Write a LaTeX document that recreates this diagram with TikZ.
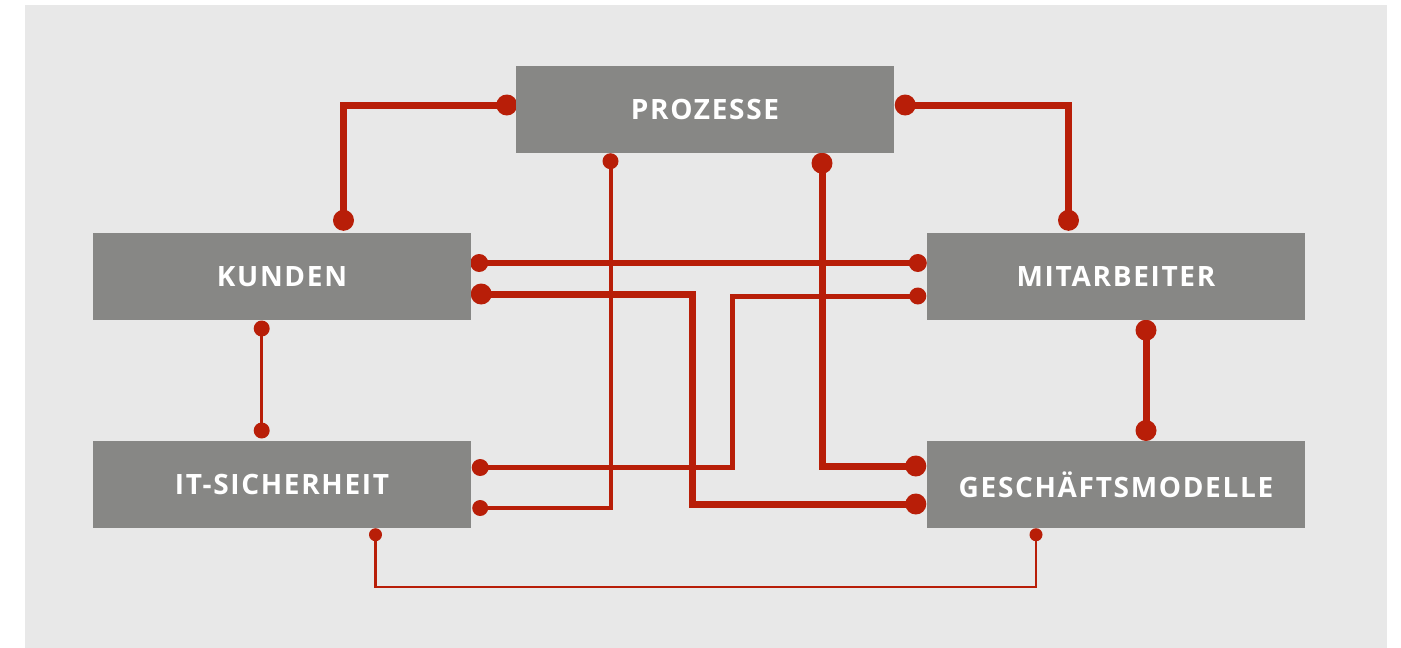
\documentclass[tikz,border=0pt]{standalone}
\usepackage{fontspec}
\setmainfont{Open Sans}
\usetikzlibrary{calc,backgrounds}
\definecolor{myred}{RGB}{184,30,8}
\definecolor{boxgray}{RGB}{135,135,133}
\definecolor{bggray}{RGB}{232,232,232}
\tikzset{
  box/.style={fill=boxgray, draw=none, minimum width=378pt, minimum height=87pt,
    inner sep=0pt, text=white, font=\fontsize{28}{32}\selectfont\bfseries\addfontfeature{LetterSpace=6}},
  wA/.style={draw=myred, line width=7pt},
  wB/.style={draw=myred, line width=6pt},
  wC/.style={draw=myred, line width=5pt},
  wD/.style={draw=myred, line width=4pt},
  wE/.style={draw=myred, line width=3.5pt},
  wF/.style={draw=myred, line width=2.5pt},
  dotfill/.style={fill=myred},
}
\begin{document}
\begin{tikzpicture}[x=1pt,y=-1pt]
\useasboundingbox (0,0) rectangle (1401,648);
\node[box] (P) at (705,109.5) {PROZESSE};
\node[box] (K) at (282,276.5) {KUNDEN};
\node[box] (M) at (1116,276.5) {MITARBEITER};
\node[box] (I) at (282,484.5) {IT-SICHERHEIT};
\node[box] (G) at (1116,484.5) {GESCHÄFTSMODELLE};
% end points
\coordinate (a1) at ($(P.west)+(-9,-4.5)$);
\coordinate (b1) at ($(K.north)+(61.5,-12.5)$);
\coordinate (a2) at ($(P.east)+(11,-4.5)$);
\coordinate (b2) at ($(M.north)+(-47.5,-12.5)$);
\coordinate (a3) at ($(P.south)+(-94.5,8)$);
\coordinate (b3) at ($(I.east)+(9,23.5)$);
\coordinate (a4) at ($(P.south)+(117,10)$);
\coordinate (b4) at ($(G.west)+(-11,-18.5)$);
\coordinate (a5) at ($(K.east)+(8,-13.5)$);
\coordinate (b5) at ($(M.west)+(-9,-13.5)$);
\coordinate (a6) at ($(K.east)+(10,17.5)$);
\coordinate (c6) at (692,294);
\coordinate (b6) at ($(G.west)+(-11,19.5)$);
\coordinate (a7) at ($(I.east)+(9,-17)$);
\coordinate (c7) at (732.5,467.5);
\coordinate (b7) at ($(M.west)+(-9,19.5)$);
\coordinate (a8) at ($(K.south)+(-20.3,8.3)$);
\coordinate (b8) at ($(I.north)+(-20.3,-10.3)$);
\coordinate (a9) at ($(M.south)+(30,10)$);
\coordinate (b9) at ($(G.north)+(30,-10.3)$);
\coordinate (a10) at ($(I.south)+(93.5,6.5)$);
\coordinate (c10) at (375.5,587);
\coordinate (b10) at ($(G.south)+(-80,6.5)$);
\begin{pgfonlayer}{background}
\fill[bggray] (25,5) rectangle (1387,648);
% connectors
\draw[wA] (a1) -| (b1);
\fill[dotfill] (a1) circle (10.5pt) (b1) circle (10.5pt);
\draw[wA] (a2) -| (b2);
\fill[dotfill] (a2) circle (10.5pt) (b2) circle (10.5pt);
\draw[wD] (a3) |- (b3);
\fill[dotfill] (a3) circle (8pt) (b3) circle (8pt);
\draw[wA] (a4) |- (b4);
\fill[dotfill] (a4) circle (10.5pt) (b4) circle (10.5pt);
\draw[wB] (a5) -- (b5);
\fill[dotfill] (a5) circle (9pt) (b5) circle (9pt);
\draw[wA] (a6) -- (c6) |- (b6);
\fill[dotfill] (a6) circle (10.5pt) (b6) circle (10.5pt);
\draw[wC] (a7) -- (c7) |- (b7);
\fill[dotfill] (a7) circle (8.5pt) (b7) circle (8.5pt);
\draw[wE] (a8) -- (b8);
\fill[dotfill] (a8) circle (8pt) (b8) circle (8pt);
\draw[wA] (a9) -- (b9);
\fill[dotfill] (a9) circle (10.5pt) (b9) circle (10.5pt);
\draw[wF] (a10) -- (c10) -| (b10);
\fill[dotfill] (a10) circle (6.5pt) (b10) circle (6.5pt);
\end{pgfonlayer}
\end{tikzpicture}
\end{document}
